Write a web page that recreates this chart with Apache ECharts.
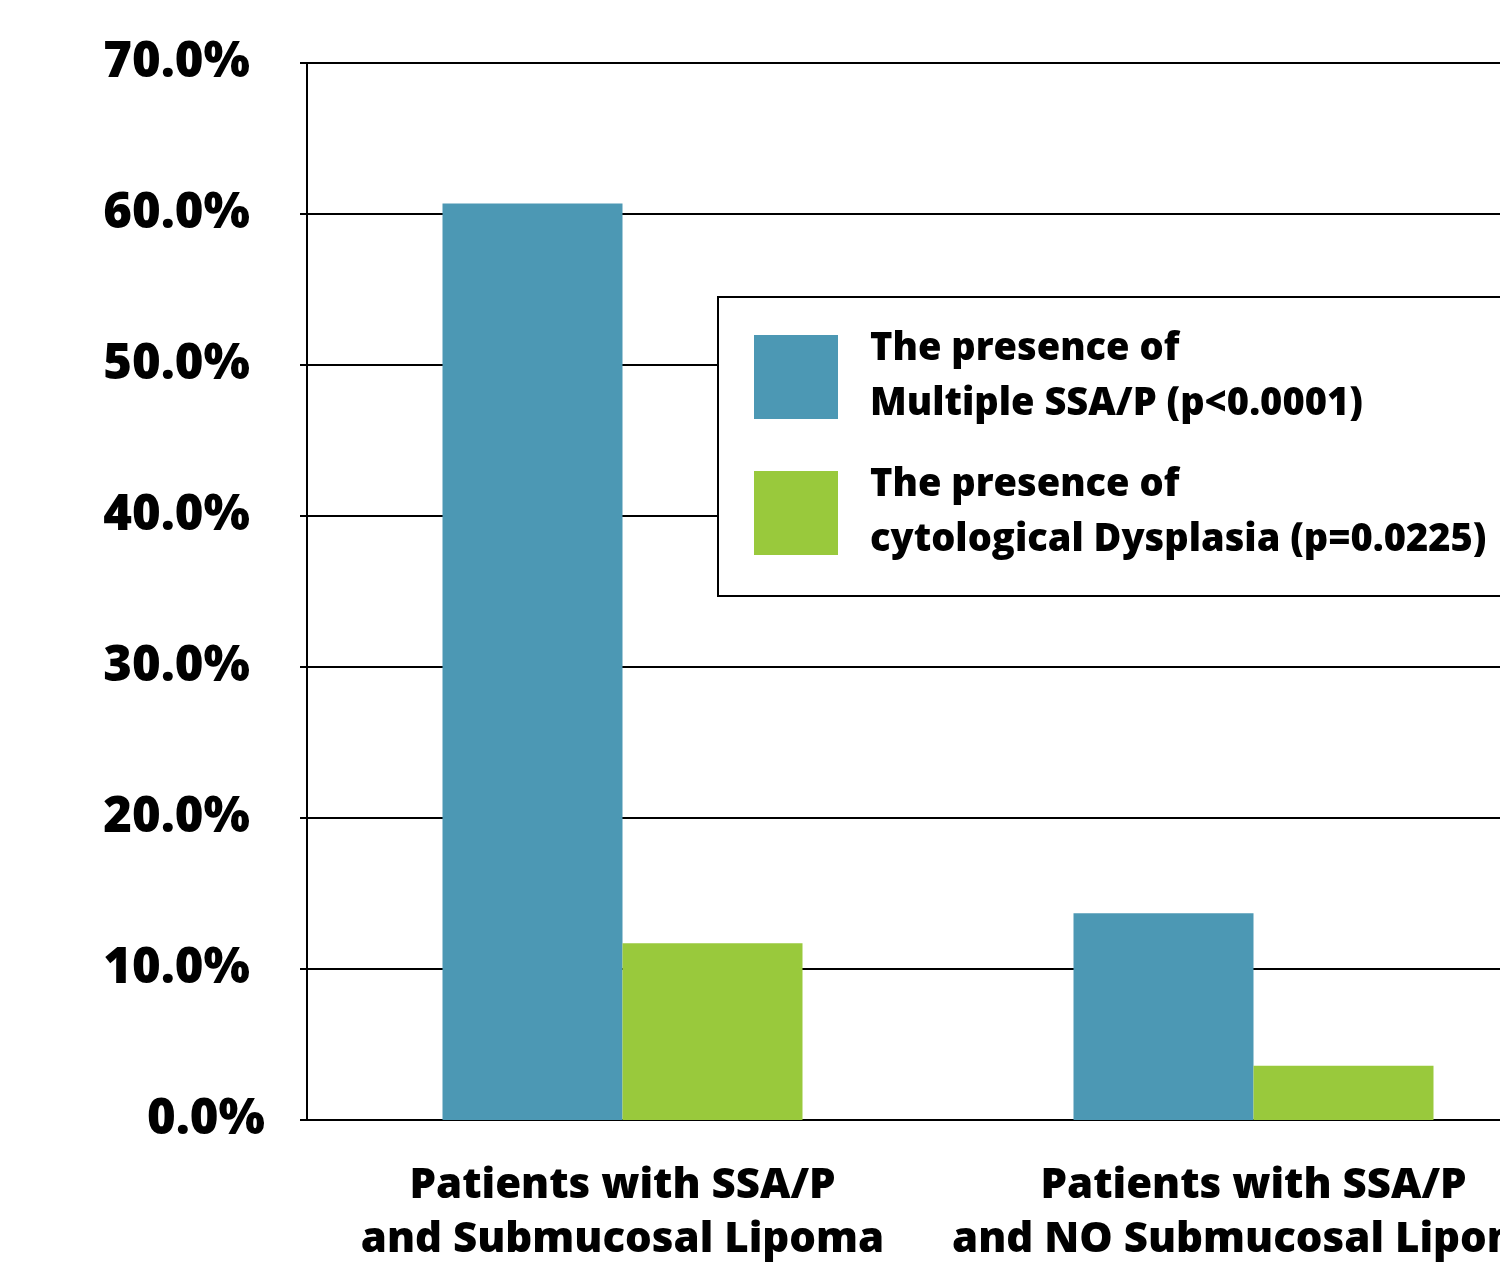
<!DOCTYPE html>
<html>
<head>
<meta charset="utf-8">
<script src="https://cdn.jsdelivr.net/npm/echarts@6/dist/echarts.min.js"></script>
<style>
  html, body { margin: 0; padding: 0; background: #fff; }
  #chart { width: 1500px; height: 1272px; }
</style>
</head>
<body>
<div id="chart"></div>
<script>
// values (percent)
const categories = [
    'Patients with SSA/P\nand Submucosal Lipoma',
    'Patients with SSA/P\nand NO Submucosal Lipoma'
];
const seriesNames = [
    'The presence of\nMultiple SSA/P (p<0.0001)',
    'The presence of\ncytological Dysplasia (p=0.0225)'
];
const multipleSSAP = [60.7, 13.7];
const dysplasia = [11.7, 3.6];

const font = '"Open Sans", "Noto Sans", sans-serif';

let myChart = echarts.init(document.getElementById('chart'));
let option = {
    backgroundColor: '#ffffff',
    animation: false,
    grid: {
        left: 307,
        top: 63,
        right: -69,
        bottom: 152,
        outerBoundsMode: 'none'
    },
    legend: {
        orient: 'vertical',
        left: 718,
        top: 297,
        padding: [25, 36, 28, 36],
        itemWidth: 84,
        itemHeight: 84,
        itemGap: 26,
        icon: 'rect',
        borderColor: '#000',
        borderWidth: 2,
        backgroundColor: '#fff',
        selectedMode: false,
        textStyle: {
            fontFamily: font,
            fontWeight: 800,
            fontSize: 38,
            lineHeight: 55,
            color: '#000',
            padding: [0, 0, 0, 27]
        },
        data: seriesNames
    },
    xAxis: {
        type: 'category',
        data: categories,
        axisLine: { lineStyle: { color: '#000', width: 2 } },
        axisTick: { length: 7, lineStyle: { color: '#000', width: 2 } },
        axisLabel: {
            interval: 0,
            showMinLabel: true,
            showMaxLabel: true,
            hideOverlap: false,
            margin: 39,
            fontFamily: font,
            fontWeight: 800,
            fontSize: 42,
            lineHeight: 54,
            color: '#000'
        }
    },
    yAxis: {
        type: 'value',
        min: 0,
        max: 70,
        interval: 10,
        axisLine: { show: true, lineStyle: { color: '#000', width: 2 } },
        axisTick: { show: true, length: 7, lineStyle: { color: '#000', width: 2 } },
        splitLine: { show: true, lineStyle: { color: '#000', width: 2 } },
        axisLabel: {
            margin: 42,
            formatter: function (v) {
                let s = v.toFixed(1) + '%';
                return v === 0 ? '{z|' + s + '}' : '{n|' + s + '}';
            },
            rich: {
                n: {
                    fontFamily: font, fontWeight: 800, fontSize: 49, color: '#000',
                    padding: [0, 15, 0, 0]
                },
                z: {
                    fontFamily: font, fontWeight: 800, fontSize: 49, color: '#000'
                }
            }
        }
    },
    series: [
        {
            name: seriesNames[0],
            type: 'bar',
            data: multipleSSAP,
            barWidth: 180,
            barGap: '0%',
            itemStyle: { color: '#4c98b4' }
        },
        {
            name: seriesNames[1],
            type: 'bar',
            data: dysplasia,
            barWidth: 180,
            barGap: '0%',
            itemStyle: { color: '#99c93c' }
        }
    ]
};
myChart.setOption(option);
</script>
</body>
</html>
